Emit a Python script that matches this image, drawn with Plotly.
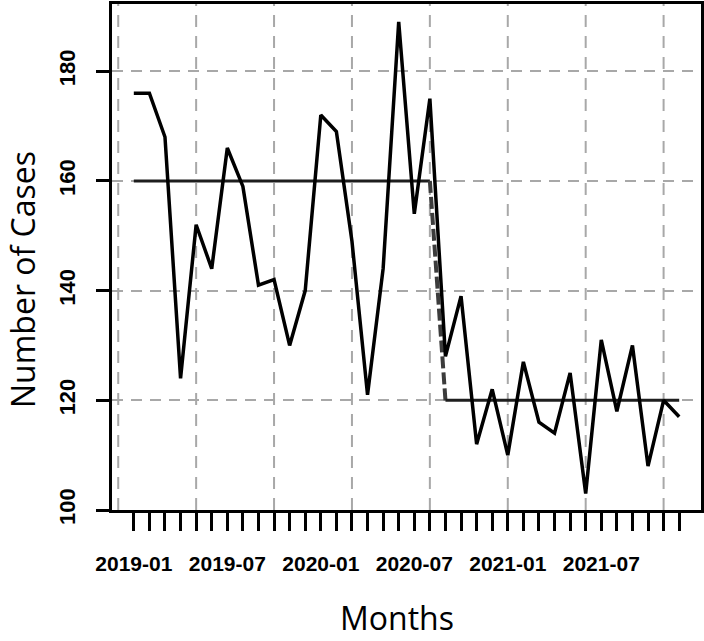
import plotly.graph_objects as go

# ---- data ----
MONTHS = [f"{y}-{m:02d}" for y in (2019, 2020, 2021) for m in range(1, 13)]
CASES = [176, 176, 168, 124, 152, 144, 166, 159, 141, 142, 130, 140,
         172, 169, 149, 121, 144, 189, 154, 175, 128, 139, 112, 122,
         110, 127, 116, 114, 125, 103, 131, 118, 130, 108, 120, 117]
LABELED_MONTHS = ["2019-01", "2019-07", "2020-01", "2020-07", "2021-01", "2021-07"]
PHASE_BREAK = 20          # last month index of phase 1
PHASE_LEVELS = [160, 120]  # level of each phase
Y_TICKS = [100, 120, 140, 160, 180]
X_GRID = [0, 5, 10, 15, 20, 25, 30, 35]

x = list(range(1, len(CASES) + 1))
n = len(CASES)

W, H = 704, 641
ML, MR, MT, MB = 112, 3, 4, 131
PW, PH = W - ML - MR, H - MT - MB

fig = go.Figure()

# phase level lines
fig.add_trace(go.Scatter(x=x[:PHASE_BREAK], y=[PHASE_LEVELS[0]] * PHASE_BREAK,
                         mode="lines", line=dict(color="#1e1e1e", width=3),
                         showlegend=False, hoverinfo="skip"))
fig.add_trace(go.Scatter(x=[x[PHASE_BREAK - 1], x[PHASE_BREAK]],
                         y=[PHASE_LEVELS[0], PHASE_LEVELS[1]],
                         mode="lines", line=dict(color="#3c3c3c", width=4, dash="12px,4px"),
                         showlegend=False, hoverinfo="skip"))
fig.add_trace(go.Scatter(x=x[PHASE_BREAK:], y=[PHASE_LEVELS[1]] * (n - PHASE_BREAK),
                         mode="lines", line=dict(color="#1e1e1e", width=3),
                         showlegend=False, hoverinfo="skip"))

# data
fig.add_trace(go.Scatter(x=x, y=CASES, mode="lines",
                         line=dict(color="black", width=3.5),
                         showlegend=False))

# vertical grid
for g in X_GRID:
    fig.add_shape(type="line", xref="x", yref="paper", x0=g, x1=g, y0=0, y1=1,
                  line=dict(color="#a8a8a8", width=2, dash="12px,9px"), layer="below")

tickvals = x
ticktext = [m if m in LABELED_MONTHS else "" for m in MONTHS]

fig.update_xaxes(range=[-0.4, 37.4], tickvals=tickvals, ticktext=ticktext,
                 ticks="outside", ticklen=18, tickwidth=3, tickcolor="black",
                 showline=True, mirror=True, linewidth=3, linecolor="black",
                 showgrid=False, zeroline=False, ticklabelstandoff=15,
                 tickfont=dict(family="Liberation Sans, Arial", size=21, color="black",
                               weight="bold"))
fig.update_yaxes(range=[100, 192.25], tickvals=Y_TICKS,
                 ticks="outside", ticklen=13, tickwidth=3, tickcolor="black",
                 showline=True, mirror=True, linewidth=3, linecolor="black",
                 showgrid=True, gridcolor="#a8a8a8", gridwidth=2, griddash="11px,8px",
                 zeroline=False, tickangle=-90, ticklabelstandoff=12,
                 tickfont=dict(family="Liberation Sans, Arial",
                               size=22, color="black", weight="bold"))

fig.add_annotation(text="Number of Cases", xref="paper", yref="paper",
                   x=(22 - ML) / PW, y=(MT + PH - 280) / PH, textangle=-90,
                   showarrow=False, xanchor="center", yanchor="middle",
                   font=dict(family="Open Sans", size=32, color="black"))
fig.add_annotation(text="Months", xref="paper", yref="paper",
                   x=(397 - ML) / PW, y=(MT + PH - 617) / PH,
                   showarrow=False, xanchor="center", yanchor="middle",
                   font=dict(family="Open Sans", size=32, color="black"))

fig.update_layout(width=W, height=H, margin=dict(l=ML, r=MR, t=MT, b=MB, autoexpand=False),
                  plot_bgcolor="white", paper_bgcolor="white")

fig.write_html("out.html")
